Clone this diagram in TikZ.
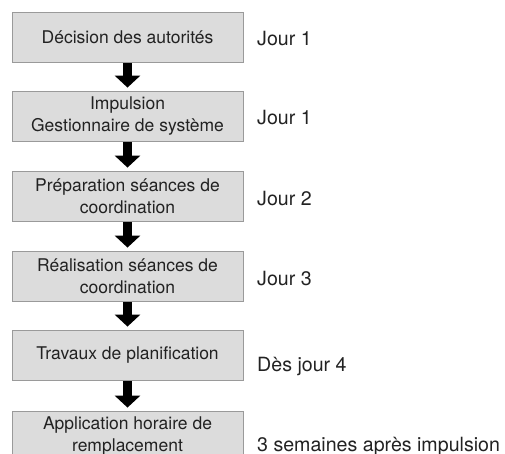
\documentclass[tikz,border=0pt]{standalone}
\usepackage{fontspec}
\setmainfont{TeX Gyre Heros}
\usepackage{tikz}
\usetikzlibrary{arrows.meta}
\definecolor{boxfill}{HTML}{DCDCDC}
\definecolor{boxline}{HTML}{9A9A9A}
\definecolor{txt}{HTML}{222222}

\begin{document}
\begin{tikzpicture}[x=1pt,y=-1pt,
	stepbox/.style={draw=boxline,fill=boxfill,line width=0.8pt,minimum width=231pt,minimum height=50pt,
		align=center,text=txt,font=\fontsize{17.5}{22}\selectfont},
	daylabel/.style={anchor=base west,text=txt,inner sep=0pt,font=\fontsize{19.6}{22}\selectfont},
	blockarrow/.style={line width=9pt,-{Triangle[width=25pt,length=12pt]},shorten <=1pt,shorten >=3pt}]
	\clip (0,0) rectangle (505,454);
	% steps
	\node[stepbox] (b1) at (127.5,37)  {D\'ecision des autorit\'es};
	\node[stepbox] (b2) at (127.5,116) {Impulsion\\Gestionnaire de syst\`eme};
	\node[stepbox] (b3) at (127.5,196) {Pr\'eparation s\'eances de\\coordination};
	\node[stepbox] (b4) at (127.5,276) {R\'ealisation s\'eances de\\coordination};
	\node[stepbox] (b5) at (127.5,355) {Travaux de planification};
	\node[stepbox] (b6) at (127.5,436) {Application horaire de\\remplacement};
	% arrows
	\draw[blockarrow] (b1) -- (b2);
	\draw[blockarrow] (b2) -- (b3);
	\draw[blockarrow] (b3) -- (b4);
	\draw[blockarrow] (b4) -- (b5);
	\draw[blockarrow] (b5) -- (b6);
	% days
	\node[daylabel] (d1) at (257,46)  {Jour 1};
	\node[daylabel] (d2) at (257,125) {Jour 1};
	\node[daylabel] (d3) at (257,206) {Jour 2};
	\node[daylabel] (d4) at (257,285) {Jour 3};
	\node[daylabel] (d5) at (257,371) {D\`es jour 4};
	\node[daylabel] (d6) at (257,451) {3 semaines apr\`es impulsion};
\end{tikzpicture}
\end{document}
